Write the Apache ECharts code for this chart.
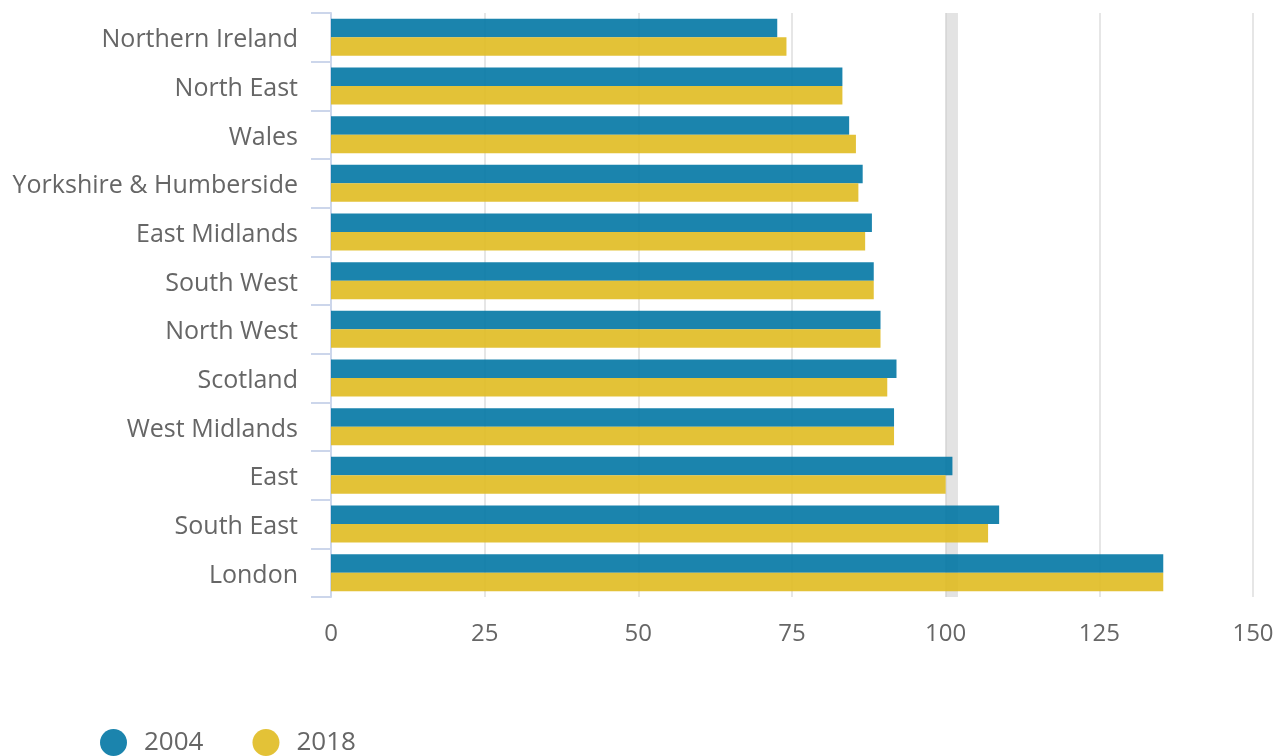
<!DOCTYPE html>
<html>
<head>
<meta charset="utf-8">
<script src="https://cdn.jsdelivr.net/npm/echarts@6/dist/echarts.min.js"></script>
<style>
html,body{margin:0;padding:0;background:#fff;}
#chart{width:1285px;height:756px;}
</style>
</head>
<body>
<div id="chart"></div>
<script>
const regions = ["Northern Ireland","North East","Wales","Yorkshire & Humberside","East Midlands","South West","North West","Scotland","West Midlands","East","South East","London"];
const values2004 = [72.6, 83.2, 84.3, 86.5, 88.0, 88.3, 89.4, 92.0, 91.6, 101.1, 108.7, 135.4];
const values2018 = [74.1, 83.2, 85.4, 85.8, 86.9, 88.3, 89.4, 90.5, 91.6, 100.0, 106.9, 135.4];
const xTicks = [0, 25, 50, 75, 100, 125, 150];
const bandRange = [100, 102];

const chart = echarts.init(document.getElementById('chart'));
const font = '"Open Sans", "Noto Sans", sans-serif';
chart.setOption({
  animation: false,
  textStyle: {fontFamily: font},
  grid: {left: 331, right: 32, top: 13, bottom: 159, containLabel: false},
  legend: {
    data: ['2004', '2018'],
    left: 95, top: 724,
    icon: 'circle', itemWidth: 27, itemHeight: 27, itemGap: 49,
    textStyle: {fontSize: 26, color: '#666', fontFamily: font, padding: [0, 0, 0, 12]}
  },
  xAxis: {
    type: 'value', min: xTicks[0], max: xTicks[xTicks.length - 1], interval: 25,
    axisLine: {show: false}, axisTick: {show: false},
    axisLabel: {fontSize: 24, color: '#666', margin: 25, fontFamily: font},
    splitLine: {show: true, lineStyle: {color: '#e6e6e6', width: 2}}
  },
  yAxis: {
    type: 'category', data: regions, inverse: true,
    axisLine: {show: true, lineStyle: {color: '#ccd6eb', width: 2}},
    axisTick: {show: true, length: 20, lineStyle: {color: '#ccd6eb', width: 2}},
    axisLabel: {
      margin: 33,
      formatter: '{a|{value}}',
      rich: {a: {fontSize: 25, color: '#666', fontFamily: font, padding: [6, 0, 0, 0]}}
    }
  },
  series: [
    {
      name: '2004', type: 'bar', data: values2004,
      barGap: '0%', barCategoryGap: '24%',
      itemStyle: {color: '#0277a4', opacity: 0.9},
      markArea: {silent: true, itemStyle: {color: 'rgba(200,200,200,0.5)'}, data: [[{xAxis: bandRange[0]}, {xAxis: bandRange[1]}]]},
      z: 2
    },
    {
      name: '2018', type: 'bar', data: values2018,
      barGap: '0%', barCategoryGap: '24%',
      itemStyle: {color: '#e0bb21', opacity: 0.9},
      z: 2
    }
  ]
});
</script>
</body>
</html>
